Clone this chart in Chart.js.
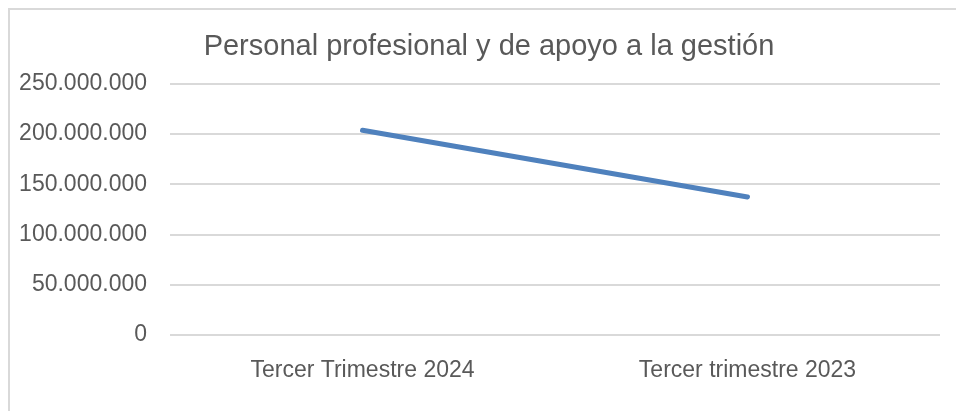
<!DOCTYPE html>
<html>
<head>
<meta charset="utf-8">
<script src="https://cdn.jsdelivr.net/npm/chart.js@4/dist/chart.umd.min.js"></script>
<style>
  html, body { margin: 0; padding: 0; background: #fff; overflow: hidden; width: 956px; height: 411px; }
  #frame { position: absolute; left: 8px; top: 8px; width: 1000px; height: 500px; border: 2px solid #d9d9d9; box-sizing: border-box; }
  #wrap { position: absolute; left: 0; top: 0; width: 956px; height: 411px; }
</style>
</head>
<body>
<div id="frame"></div>
<div id="wrap"><canvas id="c" width="956" height="411"></canvas></div>
<script>
const title = 'Personal profesional y de apoyo a la gestión';
const categories = ['Tercer Trimestre 2024', 'Tercer trimestre 2023'];
const values = [203700000, 137400000];
const yMax = 250000000;
const yStep = 50000000;

function fmt(v) {
  return String(Math.round(v)).replace(/\B(?=(\d{3})+(?!\d))/g, '.');
}

const FONT = 'Liberation Sans, Arial, sans-serif';
const GRAY = '#595959';

const shiftTitle = {
  id: 'shiftTitle',
  afterLayout(chart) {
    const t = chart.titleBlock;
    if (t) { t.left += 38; }
  }
};

new Chart(document.getElementById('c'), {
  type: 'line',
  data: {
    labels: categories,
    datasets: [{
      data: values,
      borderColor: '#4f81bd',
      borderWidth: 5,
      borderCapStyle: 'round',
      pointRadius: 0,
      pointHoverRadius: 0,
      fill: false,
      tension: 0
    }]
  },
  plugins: [shiftTitle],
  options: {
    responsive: false,
    animation: false,
    devicePixelRatio: 1,
    layout: { padding: { left: 0, right: 16, top: 0, bottom: 0 } },
    plugins: {
      legend: { display: false },
      tooltip: { enabled: false },
      title: {
        display: true,
        text: title,
        color: GRAY,
        font: { family: FONT, size: 29, weight: 'normal' },
        padding: { top: 30, bottom: 19 }
      }
    },
    scales: {
      x: {
        offset: true,
        grid: { display: false, drawTicks: false },
        border: { display: false },
        ticks: { color: GRAY, font: { family: FONT, size: 23 }, padding: 22, maxRotation: 0 },
        afterFit: s => { s.height = 76; }
      },
      y: {
        min: 0,
        max: yMax,
        grid: { color: '#d9d9d9', lineWidth: 2, drawTicks: false },
        border: { display: false },
        ticks: {
          stepSize: yStep,
          color: GRAY,
          font: { family: FONT, size: 23 },
          padding: 23,
          callback: v => fmt(v)
        },
        afterFit: s => { s.width = 170; }
      }
    }
  }
});
</script>
</body>
</html>
